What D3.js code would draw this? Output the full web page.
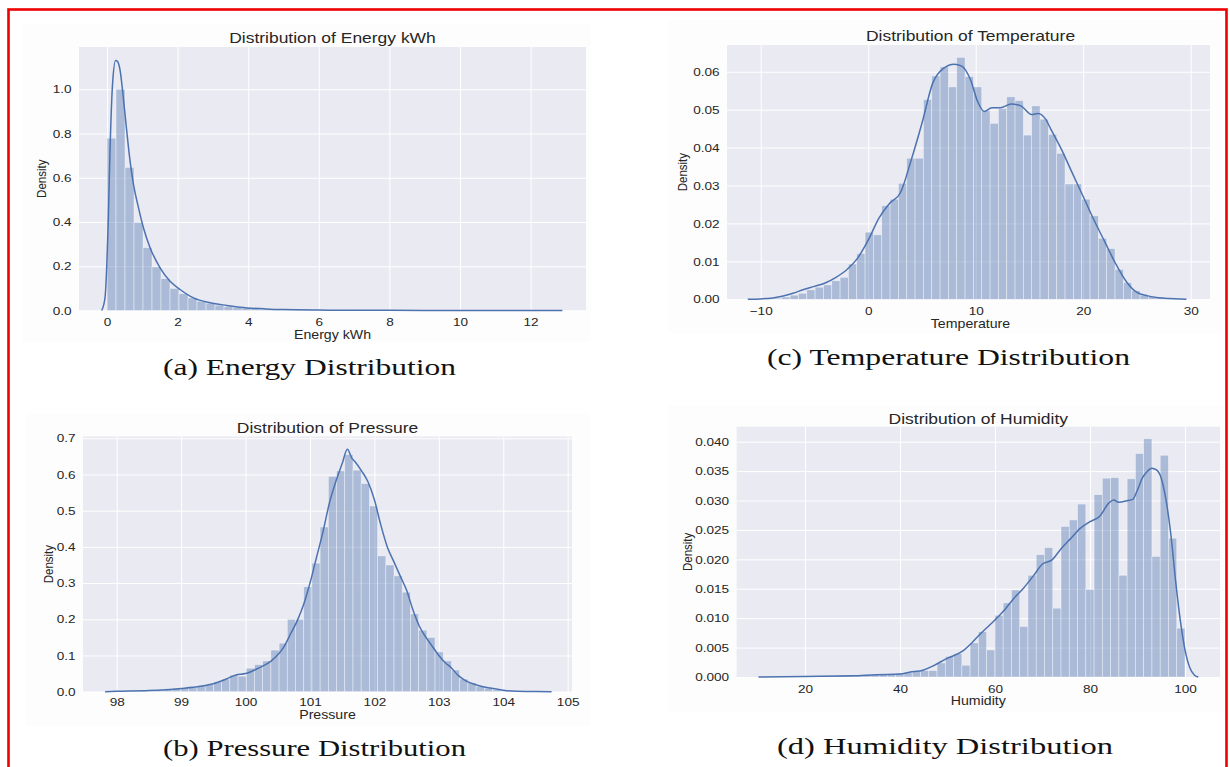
<!DOCTYPE html>
<html><head><meta charset="utf-8">
<script src="https://cdn.jsdelivr.net/npm/d3@7"></script>
<style>body{margin:0;background:#fff}svg{display:block}</style>
</head><body><svg id="c" width="1230" height="767"></svg>
<script>
// ---------------- DATA ----------------
// (a) Energy kWh
const energyBinStart = 0, energyBinWidth = 0.255;
const energyDensity = [0.779,1.0,0.647,0.398,0.284,0.197,0.144,0.100,0.076,0.057,
  0.042,0.033,0.024,0.018,0.014,0.011,0.008,0.006,0.005,0.004,
  0.0035,0.003,0.0027,0.0024,0.002,0.0018,0.0016,0.0014,0.0012,0.001,
  0.0009,0.0008,0.0007,0.0006,0.0006,0.0005,0.0004,0.0004,0.0003,0.0003,
  0.0003,0.0002,0.0002,0.0002,0.0002,0.0001,0.0001,0.0001,0.0001,0.0001];
const energyKdeX = [-0.15,-0.057,0.038,0.085,0.16,0.245,0.3,0.37,0.46,0.56,0.65,0.75,0.89,1.03,1.22,1.5,1.78,2.07,2.45,2.92,3.39,3.77,4.5,5,6,8,10,12,12.9];
const energyKdeY = [0,0.057,0.42,0.72,1.03,1.13,1.125,1.086,0.965,0.81,0.68,0.57,0.466,0.375,0.284,0.194,0.133,0.095,0.057,0.035,0.023,0.015,0.007,0.004,0.002,0.0008,0.0004,0.0002,0];
const energyXTicks = [0,2,4,6,8,10,12];
const energyXTickLabels = ["0","2","4","6","8","10","12"];
const energyYTicks = [0,0.2,0.4,0.6,0.8,1.0];
const energyYTickLabels = ["0.0","0.2","0.4","0.6","0.8","1.0"];

// (b) Pressure
const pressureBinStart = 98.1, pressureBinWidth = 0.1274;
const pressureDensity = [0.001,0.001,0.002,0.002,0.004,0.008,0.010,0.010,0.012,0.017,
  0.020,0.028,0.035,0.046,0.043,0.065,0.075,0.085,0.115,0.134,
  0.200,0.200,0.290,0.355,0.455,0.595,0.610,0.655,0.612,0.575,
  0.513,0.375,0.350,0.320,0.275,0.215,0.170,0.150,0.110,0.085,
  0.060,0.035,0.025,0.015,0.010,0.005,0.002,0.001,0.001,0.001];
const pressureKdeX = [97.82,98,98.5,99,99.3,99.5,99.7,99.85,100,100.2,100.4,100.6,100.7,100.8,100.9,101.0,101.1,101.2,101.3,101.4,101.5,101.58,101.65,101.7,101.8,101.9,102.0,102.1,102.2,102.3,102.4,102.5,102.6,102.7,102.8,102.9,103.0,103.1,103.2,103.3,103.4,103.6,103.8,104.0,104.2,104.5,104.75];
const pressureKdeY = [0,0.001,0.003,0.009,0.015,0.022,0.035,0.046,0.05,0.065,0.085,0.125,0.16,0.195,0.24,0.30,0.37,0.44,0.52,0.58,0.63,0.67,0.645,0.635,0.61,0.58,0.53,0.46,0.40,0.36,0.32,0.28,0.225,0.18,0.15,0.125,0.10,0.08,0.065,0.045,0.032,0.018,0.01,0.004,0.001,0.0003,0];
const pressureXTicks = [98,99,100,101,102,103,104,105];
const pressureXTickLabels = ["98","99","100","101","102","103","104","105"];
const pressureYTicks = [0,0.1,0.2,0.3,0.4,0.5,0.6,0.7];
const pressureYTickLabels = ["0.0","0.1","0.2","0.3","0.4","0.5","0.6","0.7"];

// (c) Temperature
const temperatureBinStart = -9.59, temperatureBinWidth = 0.775;
const temperatureDensity = [0.0001,0.0003,0.0006,0.0011,0.0016,0.0025,0.0032,0.0038,0.0049,0.0058,
  0.0093,0.0121,0.0177,0.0170,0.0247,0.0264,0.0306,0.0372,0.0372,0.0527,
  0.0589,0.0613,0.0560,0.0638,0.0587,0.0560,0.0497,0.0464,0.0503,0.0534,
  0.0524,0.0433,0.0510,0.0475,0.0435,0.0385,0.0304,0.0304,0.0264,0.0220,
  0.0161,0.0134,0.0079,0.0044,0.0023,0.0011,0.0007,0.0004,0.0002,0.0001];
const temperatureKdeX = [-11.2,-10,-9,-8,-7,-6,-5,-4,-3,-2,-1,0,1,2,3,4,5,6,7,8,8.7,9.5,10.2,10.8,11.5,12.3,13.3,14.2,15.2,15.8,16.5,17,18,19,20,21,22,23,24,25,26,27,28,29,29.6];
const temperatureKdeY = [0,0.0001,0.0003,0.0008,0.0016,0.0026,0.0034,0.0043,0.0058,0.0078,0.0108,0.0156,0.0214,0.0253,0.0281,0.0367,0.0464,0.057,0.0609,0.062,0.0615,0.058,0.052,0.0495,0.0505,0.0505,0.0515,0.051,0.0487,0.049,0.0475,0.0448,0.0394,0.0332,0.0271,0.0209,0.0152,0.0095,0.0047,0.0018,0.0009,0.0004,0.0002,0.0001,0];
const temperatureXTicks = [-10,0,10,20,30];
const temperatureXTickLabels = ["\u221210","0","10","20","30"];
const temperatureYTicks = [0,0.01,0.02,0.03,0.04,0.05,0.06];
const temperatureYTickLabels = ["0.00","0.01","0.02","0.03","0.04","0.05","0.06"];

// (d) Humidity
const humidityBinStart = 13, humidityBinWidth = 1.74;
const humidityDensity = [0.0001,0.0001,0.0001,0.0001,0.0002,0.0002,0.0002,0.0002,0.0003,0.0003,
  0.0003,0.0004,0.0004,0.0005,0.0005,0.0006,0.0008,0.0009,0.0011,0.0011,
  0.0024,0.0035,0.0040,0.0020,0.0058,0.0077,0.0046,0.0105,0.0126,0.0148,
  0.0086,0.0173,0.0208,0.0220,0.0117,0.0256,0.0267,0.0294,0.0149,0.0310,
  0.0338,0.0339,0.0173,0.0337,0.0380,0.0405,0.0205,0.0377,0.0236,0.0083];
const humidityKdeX = [10.2,20,30,35,40,42,45,47,50,53,55,57,60,62,64,66,68,70,72,74,76,78,80,82,84,85,86,88,89,90,91,92,93,94,95,96,97,98,99,100,101,102,102.8];
const humidityKdeY = [0,0.0001,0.0002,0.0004,0.0005,0.0008,0.0012,0.0019,0.0032,0.0043,0.0057,0.0074,0.0097,0.0114,0.0134,0.0151,0.0171,0.0192,0.0199,0.0219,0.0236,0.0253,0.0264,0.0273,0.0296,0.0301,0.0297,0.030,0.0302,0.0318,0.0338,0.0349,0.0355,0.0352,0.0338,0.0301,0.0244,0.0165,0.0097,0.0046,0.0016,0.0003,0];
const humidityXTicks = [20,40,60,80,100];
const humidityXTickLabels = ["20","40","60","80","100"];
const humidityYTicks = [0,0.005,0.01,0.015,0.02,0.025,0.03,0.035,0.04];
const humidityYTickLabels = ["0.000","0.005","0.010","0.015","0.020","0.025","0.030","0.035","0.040"];

// ---------------- DRAWING ----------------
const svg = d3.select("#c");
const S = 1.18; // horizontal stretch of the source picture
const SANS = "'Liberation Sans', Arial, Helvetica, sans-serif";
const SERIF = "'Liberation Serif', 'Times New Roman', serif";
const TXT = "#262626";
const BAR = "#4C72B0";

svg.append("rect").attr("width",1230).attr("height",767).attr("fill","#fff");

function stretchedText(x, y, str, size, opt) {
  opt = opt || {};
  const g = svg.append("g")
    .attr("transform", `translate(${x},${y}) scale(${S},1)` + (opt.rotate ? " rotate(-90)" : ""));
  const t = g.append("text").text(str)
    .attr("font-family", SANS).attr("font-size", size).attr("fill", TXT)
    .attr("text-anchor", "middle");
  if (opt.rotate) t.attr("dy", "0.35em");
  return t;
}

function panel(c) {
  const fig = svg.append("g");
  fig.append("rect").attr("x", c.fig[0]).attr("y", c.fig[1])
    .attr("width", c.fig[2]-c.fig[0]).attr("height", c.fig[3]-c.fig[1]).attr("fill", "#fdfdfd");
  const x = d3.scaleLinear().domain(c.xDomain).range([c.left, c.right]);
  const y = d3.scaleLinear().domain([0, c.yMax]).range([c.bottom, c.top]);
  const g = svg.append("g");
  g.append("rect").attr("x", c.left).attr("y", c.top)
    .attr("width", c.right-c.left).attr("height", c.bottom-c.top).attr("fill", "#EAEAF2");
  // grid
  const gx = g.append("g").attr("transform", `translate(0,${c.bottom})`)
    .call(d3.axisBottom(x).tickValues(c.xTicks).tickSize(-(c.bottom-c.top)).tickFormat(""));
  const gy = g.append("g").attr("transform", `translate(${c.left},0)`)
    .call(d3.axisLeft(y).tickValues(c.yTicks).tickSize(-(c.right-c.left)).tickFormat(""));
  [gx, gy].forEach(a => {
    a.select(".domain").remove();
    a.selectAll("line").attr("stroke", "#fff").attr("stroke-width", 1);
  });
  // bars
  g.append("g").selectAll("rect").data(c.density).join("rect")
    .attr("x", (d,i) => x(c.binStart + i*c.binWidth))
    .attr("width", (d,i) => x(c.binStart + (i+1)*c.binWidth) - x(c.binStart + i*c.binWidth))
    .attr("y", d => y(d))
    .attr("height", d => y(0) - y(d))
    .attr("fill", BAR).attr("fill-opacity", 0.4)
    .attr("stroke", "#fff").attr("stroke-opacity", 0.55).attr("stroke-width", 0.7);
  // kde
  const pts = c.kdeX.map((v,i) => [v, c.kdeY[i]]);
  g.append("path").datum(pts)
    .attr("d", d3.line().x(d => x(d[0])).y(d => y(d[1])).curve(d3.curveMonotoneX))
    .attr("fill", "none").attr("stroke", BAR).attr("stroke-width", 1.5);
  // tick labels
  const ax = g.append("g").attr("transform", `translate(0,${c.bottom})`)
    .call(d3.axisBottom(x).tickValues(c.xTicks).tickSize(0).tickPadding(c.xPad)
      .tickFormat((d,i) => c.xLabels[i]));
  const ay = g.append("g").attr("transform", `translate(${c.left},0)`)
    .call(d3.axisLeft(y).tickValues(c.yTicks).tickSize(0).tickPadding(7.5/S)
      .tickFormat((d,i) => c.yLabels[i]));
  [ax, ay].forEach(a => {
    a.select(".domain").remove();
    a.selectAll("text").attr("font-family", SANS).attr("font-size", 11.5)
      .attr("fill", TXT).attr("transform", `scale(${S},1)`);
  });
  // titles & labels
  const cx = (c.left + c.right) / 2 + (c.titleShift || 0);
  stretchedText(cx, c.titleY, c.title, 14.8);
  stretchedText(cx, c.xlabelY, c.xlabel, 12);
  stretchedText(c.ylabelX, (c.top + c.bottom) / 2, "Density", 11.5, {rotate: true});
  // caption
  svg.append("text").attr("x", c.cap[0]).attr("y", c.cap[2]).text(c.caption)
    .attr("font-family", SERIF).attr("font-size", c.capSize).attr("fill", "#111")
    .attr("textLength", c.cap[1]).attr("lengthAdjust", "spacingAndGlyphs");
}

panel({
  fig: [22, 24, 591, 342],
  left: 79, right: 586, top: 47, bottom: 310.5,
  xDomain: [-0.793, 13.569], yMax: 1.191,
  binStart: energyBinStart, binWidth: energyBinWidth, density: energyDensity,
  kdeX: energyKdeX, kdeY: energyKdeY,
  xTicks: energyXTicks, xLabels: energyXTickLabels, yTicks: energyYTicks, yLabels: energyYTickLabels,
  xPad: 7.3, title: "Distribution of Energy kWh", titleY: 43, xlabel: "Energy kWh", xlabelY: 339, ylabelX: 41,
  caption: "(a) Energy Distribution", cap: [163, 293, 375], capSize: 23
});
panel({
  fig: [668, 20, 1222, 333],
  left: 727, right: 1210, top: 45, bottom: 299.3,
  xDomain: [-13.135, 31.795], yMax: 0.06705,
  binStart: temperatureBinStart, binWidth: temperatureBinWidth, density: temperatureDensity,
  kdeX: temperatureKdeX, kdeY: temperatureKdeY,
  xTicks: temperatureXTicks, xLabels: temperatureXTickLabels, yTicks: temperatureYTicks, yLabels: temperatureYTickLabels,
  xPad: 7.5, title: "Distribution of Temperature", titleY: 40.7, xlabel: "Temperature", xlabelY: 328, ylabelX: 682,
  titleShift: 2,
  caption: "(c) Temperature Distribution", cap: [767, 363, 365], capSize: 23
});
panel({
  fig: [26, 413, 590, 726],
  left: 83, right: 572, top: 436.5, bottom: 691.7,
  xDomain: [97.477, 105.067], yMax: 0.7049,
  binStart: pressureBinStart, binWidth: pressureBinWidth, density: pressureDensity,
  kdeX: pressureKdeX, kdeY: pressureKdeY,
  xTicks: pressureXTicks, xLabels: pressureXTickLabels, yTicks: pressureYTicks, yLabels: pressureYTickLabels,
  xPad: 6.1, title: "Distribution of Pressure", titleY: 433, xlabel: "Pressure", xlabelY: 719, ylabelX: 48,
  caption: "(b) Pressure Distribution", cap: [163, 303, 756], capSize: 23
});
panel({
  fig: [668, 405, 1224, 712],
  left: 736.6, right: 1220, top: 426.7, bottom: 677,
  xDomain: [5.6, 107.37], yMax: 0.04255,
  binStart: humidityBinStart, binWidth: humidityBinWidth, density: humidityDensity,
  kdeX: humidityKdeX, kdeY: humidityKdeY,
  xTicks: humidityXTicks, xLabels: humidityXTickLabels, yTicks: humidityYTicks, yLabels: humidityYTickLabels,
  xPad: 7.8, title: "Distribution of Humidity", titleY: 423.5, xlabel: "Humidity", xlabelY: 705, ylabelX: 687,
  caption: "(d) Humidity Distribution", cap: [777, 336, 754], capSize: 24
});

// red frame
svg.append("rect").attr("x", 8.5).attr("y", 9.5).attr("width", 1218).attr("height", 800)
  .attr("fill", "none").attr("stroke", "#ee0000").attr("stroke-width", 2.6);
</script>
</body></html>
